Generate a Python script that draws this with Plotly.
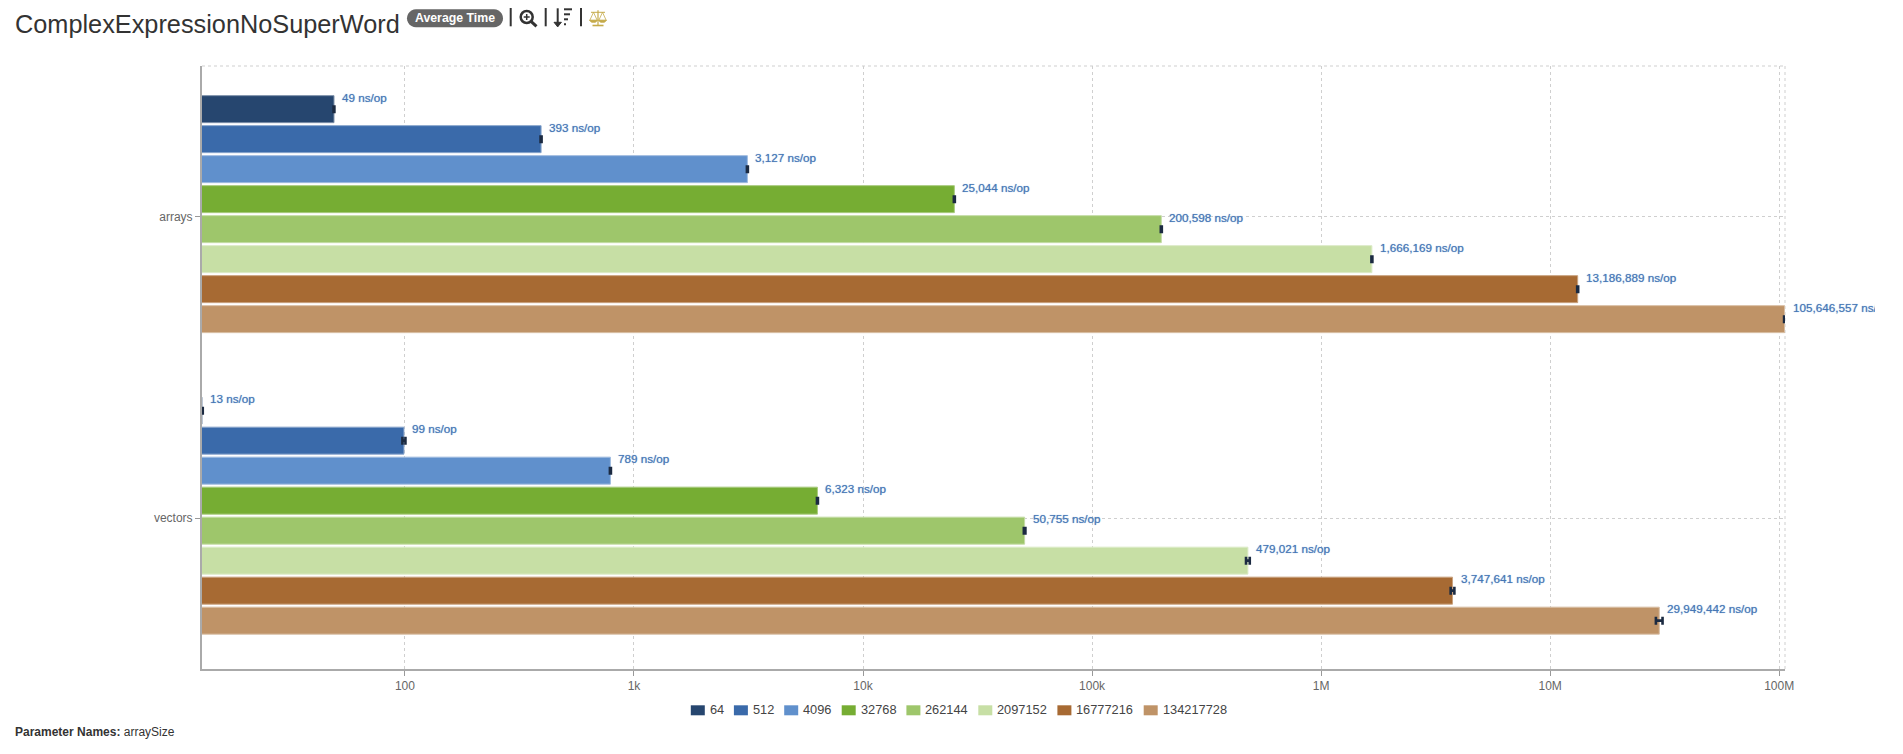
import math
import plotly.graph_objects as go

CATEGORIES = ["arrays", "vectors"]
ARRAY_SIZES = ["64", "512", "4096", "32768", "262144", "2097152", "16777216", "134217728"]
COLORS = ["#26466f", "#3a6aaa", "#6090cc", "#76ad33", "#9ec66b", "#c7dfa5", "#a76a33", "#bf9367"]
EDGES = ["#7d90a9", "#89a6cc", "#a0bce0", "#a9cb7e", "#c4dca6", "#dcebc8", "#c9a27f", "#d9bfa5"]
ARRAYS_NS = [49, 393, 3127, 25044, 200598, 1666169, 13186889, 105646557]
VECTORS_NS = [13, 99, 789, 6323, 50755, 479021, 3747641, 29949442]
ARRAYS_ERR = [0.2, 2, 15, 120, 1000, 8000, 65000, 600000]
VECTORS_ERR = [0.1, 1.5, 4, 30, 400, 9000, 70000, 1000000]
X_TICKS = [100, 1000, 10000, 100000, 1000000, 10000000, 100000000]
X_TICK_TEXT = ["100", "1k", "10k", "100k", "1M", "10M", "100M"]

FONT = "Liberation Sans, Arial, sans-serif"
PAGE = 8  # default body margin of the written page
W, H = 1875 - PAGE, 754 - 2 * PAGE
L, T, R, B = 202, 65.7, 1785, 668.7
BAND = (B - T) / len(CATEGORIES)
BAR_H, BAR_PITCH, BAR_FIRST = 27, 30, -121.1  # pixels, relative to the category centre

def px(x):
    return (x - L) / (R - L)

def py(y):
    return (B - y) / (B - T)

fig = go.Figure()
for i, size in enumerate(ARRAY_SIZES):
    fig.add_trace(go.Bar(
        name=size, orientation="h", y=CATEGORIES,
        x=[ARRAYS_NS[i], VECTORS_NS[i]],
        width=BAR_H / BAND, offset=(BAR_FIRST + i * BAR_PITCH) / BAND,
        marker=dict(color=COLORS[i], line=dict(color=EDGES[i], width=1)),
        error_x=dict(type="data", array=[ARRAYS_ERR[i], VECTORS_ERR[i]],
                     color="#1b2a41", thickness=2.6, width=4),
        showlegend=False,
    ))

annotations = []
for c, values in enumerate([ARRAYS_NS, VECTORS_NS]):
    for i, v in enumerate(values):
        annotations.append(dict(
            x=math.log10(v), y=c + (BAR_FIRST + i * BAR_PITCH + BAR_H / 2) / BAND, xref="x", yref="y",
            text=f"{v:,} ns/op", showarrow=False, xanchor="left", yanchor="middle",
            xshift=6, yshift=12,
            font=dict(family=FONT, size=11.7, color="#4677b5", shadow="0px 0px 1px #7a9fd0"),
        ))

def note(x, y, text, size, color, anchor="left"):
    annotations.append(dict(
        x=px(x), y=py(y), xref="paper", yref="paper", text=text, showarrow=False,
        xanchor=anchor, yanchor="middle", font=dict(family=FONT, size=size, color=color),
    ))

note(12.5, 24, "ComplexExpressionNoSuperWord", 25.3, "#333333")
note(455, 18, "<b>Average Time</b>", 12.3, "#ffffff", "center")
note(13, 731.7, "<b>Parameter Names:</b> arraySize", 12, "#333333")

shapes = []

def path(points, close=False, fill=None, color="#333333", width=2):
    d = "M" + " L".join(f"{px(a)},{py(b)}" for a, b in points) + (" Z" if close else "")
    shapes.append(dict(type="path", xref="paper", yref="paper", path=d,
                       line=dict(color=color, width=width), fillcolor=fill, layer="above"))

# plot frame (top and right)
shapes.append(dict(type="line", xref="paper", yref="paper", x0=0, x1=1, y0=1, y1=1,
                   line=dict(color="#cfcfcf", width=1, dash="3px,3px"), layer="below"))
shapes.append(dict(type="line", xref="paper", yref="paper", x0=1, x1=1, y0=0, y1=1,
                   line=dict(color="#cfcfcf", width=1, dash="3px,3px"), layer="below"))

# badge (drawn first among the header pieces)
r = 9
x0, x1, y0, y1 = 407, 503, 9, 27
arc = []
for k in range(13):
    a = math.pi / 2 + k * math.pi / 12
    arc.append((x0 + r + r * math.cos(a), y0 + r - r * math.sin(a)))
for k in range(13):
    a = -math.pi / 2 + k * math.pi / 12
    arc.append((x1 - r + r * math.cos(a), y0 + r - r * math.sin(a)))
path(arc, close=True, fill="#666666", color="#666666", width=0)

# separators
for sx in (510.7, 545.7, 581):
    path([(sx, 7), (sx, 26)], width=2)

# magnifier icon
cx, cy, rr = 526.7, 16.7, 6
shapes.append(dict(type="circle", xref="paper", yref="paper", x0=px(cx - rr), x1=px(cx + rr),
                   y0=py(cy + rr), y1=py(cy - rr), line=dict(color="#333333", width=2.5), layer="above"))
path([(531, 21), (536.5, 26)], width=3)
path([(cx - 3, cy), (cx + 3, cy)], width=1.5)
path([(cx, cy - 3), (cx, cy + 3)], width=1.5)

# sort icon
path([(557.7, 8), (557.7, 26)], width=2)
path([(554, 22), (557.7, 26.5), (561.4, 22)], close=True, fill="#333333", width=1)
for by, bw in ((9, 8), (14, 6), (19, 4), (24, 2)):
    path([(564, by), (564 + bw, by)], width=2)

# balance icon
GOLD = "#c5ab4a"
path([(598, 10), (598, 25)], color=GOLD, width=1.2)
path([(592.5, 25.2), (603.5, 25.2)], color=GOLD, width=1.6)
path([(591, 12), (605, 12)], color=GOLD, width=1)
for sx in (593.5, 602.5):
    path([(sx, 12), (sx - 3.7, 20), (sx + 3.7, 20)], close=True, color=GOLD, width=0.8)
    path([(sx - 4, 20), (sx - 2, 22), (sx + 2, 22), (sx + 4, 20)], close=True, fill=GOLD, color=GOLD, width=0.8)

# legend keyed to the series
lx = 690.8
for size, color in zip(ARRAY_SIZES, COLORS):
    shapes.append(dict(type="rect", xref="paper", yref="paper", x0=px(lx), x1=px(lx + 14),
                       y0=py(715), y1=py(705), fillcolor=color, line=dict(width=0), layer="above"))
    note(lx + 17, 709, size, 12.8, "#444444")
    lx += 28.7 + 7.2 * len(size)

fig.update_layout(
    width=W, height=H, autosize=False,
    margin=dict(l=L - PAGE, t=T - PAGE, r=W - (R - PAGE), b=H - (B - PAGE), pad=0),
    paper_bgcolor="white", plot_bgcolor="white",
    barmode="group",
    font=dict(family=FONT, size=12, color="#666666"),
    annotations=annotations, shapes=shapes,
    xaxis=dict(type="log", range=[math.log10(13), math.log10(106000000)],
               tickmode="array", tickvals=X_TICKS, ticktext=X_TICK_TEXT,
               showgrid=True, gridcolor="#cfcfcf", griddash="3px,3px", gridwidth=1,
               showline=True, linecolor="#aaaaaa", linewidth=2,
               ticks="outside", ticklen=5, tickcolor="#999999",
               tickfont=dict(family=FONT, size=12, color="#666666"), zeroline=False),
    yaxis=dict(type="category", categoryorder="array", categoryarray=CATEGORIES,
               range=[1.5, -0.5], showgrid=True, gridcolor="#cfcfcf", griddash="3px,3px", gridwidth=1,
               showline=True, linecolor="#aaaaaa", linewidth=2,
               ticks="outside", ticklen=5, tickcolor="#999999",
               tickfont=dict(family=FONT, size=12, color="#666666"), zeroline=False),
)

fig.write_html("out.html", config=dict(displayModeBar=False))
